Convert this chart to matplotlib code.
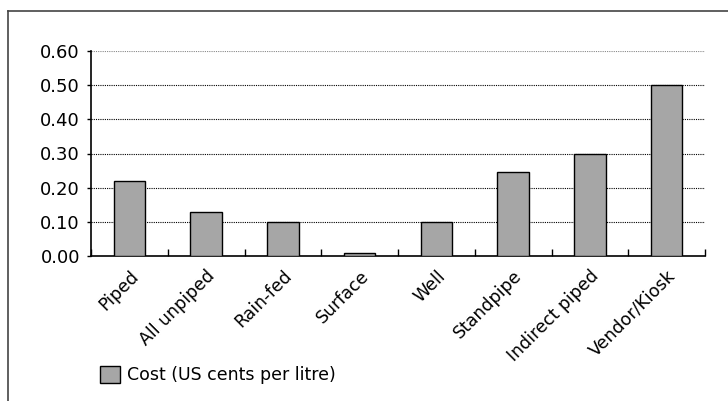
import matplotlib
matplotlib.use("Agg")
import matplotlib.pyplot as plt
from matplotlib.lines import Line2D
from matplotlib.patches import Patch
import numpy as np

# Water source categories and their cost
sources = ["Piped", "All unpiped", "Rain-fed", "Surface", "Well",
           "Standpipe", "Indirect piped", "Vendor/Kiosk"]
cost = [0.22, 0.13, 0.10, 0.01, 0.10, 0.245, 0.30, 0.50]
yticks = [0.0, 0.1, 0.2, 0.3, 0.4, 0.5, 0.6]

plt.rcParams['font.family'] = ['DejaVu Sans']
fig = plt.figure(figsize=(7.28, 4.01), dpi=100)
ax = fig.add_axes([91 / 728, 1 - 256 / 401, 614 / 728, 205 / 401])

x = np.arange(len(sources))
ax.bar(x, cost, width=0.41, color="#a6a6a6", edgecolor="black",
       linewidth=1.0, zorder=3)

ax.set_xlim(-0.5, len(sources) - 0.5)
ax.set_ylim(0, 0.6)
ax.set_yticks(yticks)
ax.set_yticklabels([f"{v:.2f}" for v in yticks], fontsize=13)

# dotted gridlines, the top one a bit lighter
for v in yticks[1:]:
    ax.axhline(v, color="#888888" if v == 0.6 else "black",
               linestyle=(0, (1, 1)), linewidth=0.8, zorder=1)

ax.set_xticks(x)
ax.set_xticklabels(sources, rotation=45, ha="right", rotation_mode="anchor",
                   fontsize=12.5)
ax.tick_params(axis="x", which="major", length=0, pad=8)
ax.set_xticks(np.arange(len(sources) + 1) - 0.5, minor=True)
ax.tick_params(axis="x", which="minor", direction="in", length=5, width=1)
ax.tick_params(axis="y", direction="out", length=3, width=1, pad=5)

for s in ["top", "right"]:
    ax.spines[s].set_visible(False)
for s in ["left", "bottom"]:
    ax.spines[s].set_linewidth(1.2)

# legend below the chart
fig.legend(handles=[Patch(facecolor="#a6a6a6", edgecolor="black", linewidth=1.0)],
           labels=["Cost (US cents per litre)"], loc="center left",
           bbox_to_anchor=(84 / 728, 1 - 375 / 401), frameon=False,
           fontsize=12.5, handlelength=1.2, handleheight=1.2, handletextpad=0.4)

# frame lines around the figure
fig.add_artist(Line2D([8 / 728, 1], [1 - 11 / 401, 1 - 11 / 401],
                      color="#444444", linewidth=1.2))
fig.add_artist(Line2D([8 / 728, 8 / 728], [0, 1 - 11 / 401],
                      color="#444444", linewidth=1.2))

fig.savefig("out.png", dpi=100)
